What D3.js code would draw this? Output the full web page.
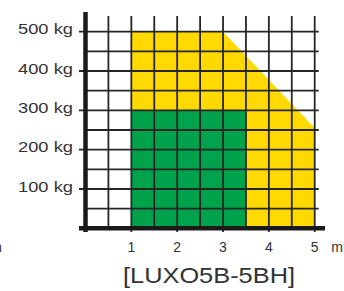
<!DOCTYPE html>
<html>
<head>
<meta charset="utf-8">
<script src="https://cdn.jsdelivr.net/npm/d3@7"></script>
<style>
body{margin:0;background:#fff;}
svg{display:block;}
text{font-family:"Liberation Sans",Arial,Helvetica,sans-serif;fill:#333;}
</style>
</head>
<body>
<div id="graph"></div>
<script>
var width=344;
var height=291;

// load diagram data (reach in m, load in kg)
var xTicks=[1,2,3,4,5];
var yTicks=[100,200,300,400,500];
var yTickLabels=['100 kg','200 kg','300 kg','400 kg','500 kg'];
var gridX=[0.5,1,1.5,2,2.5,3,3.5,4,4.5,5];
var gridY=[50,100,150,200,250,300,350,400,450,500];
var yellowZone=[[1,0],[1,500],[3,500],[5,255],[5,0]];
var greenZone=[[1,0],[1,300],[3.5,300],[3.5,0]];
var title='[LUXO5B-5BH]';

var svg=d3.select('#graph').append('svg').attr('width',width).attr('height',height);

var x=d3.scaleLinear().domain([0,5]).range([85.5,314.7]);
var y=d3.scaleLinear().domain([0,500]).range([228.3,31.7]);

var area=d3.line().x(function(d){return x(d[0]);}).y(function(d){return y(d[1]);});

svg.append('path').attr('d',area(yellowZone)+'Z').attr('fill','#FFD900');
svg.append('path').attr('d',area(greenZone)+'Z').attr('fill','#00A24C');

// grid
svg.selectAll('line.vg').data(gridX).enter().append('line')
	.attr('class','vg')
	.attr('x1',function(d){return x(d);}).attr('x2',function(d){return x(d);})
	.attr('y1',y(540)).attr('y2',function(d){return d%1===0?232:228;})
	.attr('stroke','#262626').attr('stroke-width',1.8);

svg.selectAll('line.hg').data(gridY).enter().append('line')
	.attr('class','hg')
	.attr('x1',function(d){return d%100===0?79:x(0);}).attr('x2',318.7)
	.attr('y1',function(d){return y(d);}).attr('y2',function(d){return y(d);})
	.attr('stroke','#262626').attr('stroke-width',1.8);

// axes
svg.append('line').attr('x1',x(0)).attr('x2',x(0)).attr('y1',12).attr('y2',232)
	.attr('stroke','#1a1a1a').attr('stroke-width',4.5);
svg.append('line').attr('x1',79).attr('x2',325).attr('y1',y(0)).attr('y2',y(0))
	.attr('stroke','#1a1a1a').attr('stroke-width',4.5);

// labels
svg.selectAll('text.yl').data(yTicks).enter().append('text')
	.attr('class','yl')
	.attr('x',73).attr('y',function(d){return y(d)+2.6;})
	.attr('text-anchor','end').attr('font-size',14)
	.attr('textLength',55).attr('lengthAdjust','spacingAndGlyphs')
	.text(function(d,i){return yTickLabels[i];});

svg.selectAll('text.xl').data(xTicks).enter().append('text')
	.attr('class','xl')
	.attr('x',function(d){return x(d);}).attr('y',251.7)
	.attr('text-anchor','middle').attr('font-size',14)
	.text(function(d){return d;});

svg.append('text').attr('x',337).attr('y',251.7).attr('text-anchor','middle').attr('font-size',14).text('m');
svg.append('text').attr('x',-4).attr('y',251.7).attr('text-anchor','middle').attr('font-size',14).text('m');

svg.append('text').attr('x',123).attr('y',283).attr('font-size',22)
	.attr('textLength',172).attr('lengthAdjust','spacingAndGlyphs')
	.text(title);
</script>
</body>
</html>
